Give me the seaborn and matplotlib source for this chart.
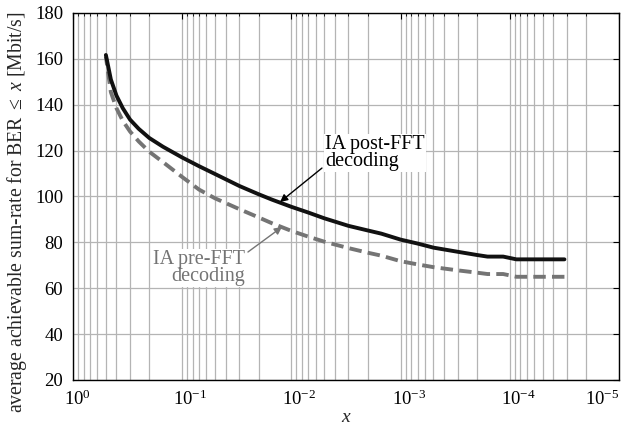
import matplotlib
matplotlib.use("Agg")
import matplotlib.pyplot as plt
import matplotlib.transforms as mtransforms
import numpy as np
import pandas as pd
import seaborn as sns

# BER threshold x and achievable sum-rate [Mbit/s]
ber = [0.5, 0.45, 0.4, 0.35, 0.3, 0.25, 0.2, 0.15, 0.1, 0.07, 0.05, 0.03,
       0.02, 0.015, 0.01, 0.007, 0.005, 0.003, 0.002, 0.0015, 0.001, 7e-4,
       5e-4, 3e-4, 2e-4, 1.6e-4, 1.15e-4, 8.7e-5, 3.16e-5]
post_fft = [161.7, 151.0, 144.0, 138.5, 133.5, 129.5, 125.5, 121.7, 117.0, 113.2,
            109.8, 104.6, 101.0, 98.6, 95.5, 93.0, 90.5, 87.2, 85.2, 83.8, 81.2,
            79.5, 77.7, 75.9, 74.5, 73.8, 73.8, 72.6, 72.6]
pre_fft = [161.0, 145.5, 138.5, 133.0, 128.3, 124.0, 119.5, 115.0, 108.5, 103.0,
           99.2, 94.5, 90.9, 88.3, 85.0, 82.5, 80.3, 77.5, 75.5, 74.2, 71.8,
           70.4, 69.2, 67.8, 66.8, 66.2, 66.2, 65.0, 65.0]

sns.set_style("white")
plt.rcParams["font.family"] = "serif"
plt.rcParams["font.serif"] = ["Liberation Serif", "DejaVu Serif"]
plt.rcParams["mathtext.fontset"] = "custom"
plt.rcParams["mathtext.rm"] = "Liberation Serif"
plt.rcParams["mathtext.it"] = "Liberation Serif:italic"
plt.rcParams["font.size"] = 13

GRAY = "#747474"

df = pd.DataFrame({"ber": ber, "post": post_fft, "pre": pre_fft})

fig = plt.figure(figsize=(6.23, 4.25), dpi=100)
ax = fig.add_axes([73 / 623, 45 / 425, 546 / 623, 367 / 425])

sns.lineplot(data=df, x="ber", y="pre", ax=ax, color=GRAY, linewidth=2.8,
             linestyle=(0, (3.2, 1.6)), zorder=3)
sns.lineplot(data=df, x="ber", y="post", ax=ax, color="#111111", linewidth=2.8,
             zorder=4)

ax.set_xscale("log")
ax.set_xlim(1, 1e-5)
ax.set_ylim(20, 180)
ax.set_yticks(range(20, 181, 20))

ax.grid(True, which="major", color="#b4b4b4", linewidth=0.9)
ax.grid(True, which="minor", axis="x", color="#b4b4b4", linewidth=0.9)
ax.set_axisbelow(True)
for s in ax.spines.values():
    s.set_color("black")
    s.set_linewidth(1.0)
ax.tick_params(which="both", direction="in", top=True, right=True,
               labelsize=13.5, colors="black")
ax.tick_params(which="major", length=4, pad=7)
ax.tick_params(which="minor", length=2)

ax.set_xlabel("$x$", fontsize=14, labelpad=0)
ax.set_ylabel(r"average achievable sum-rate for BER $\leq$ $x$ [Mbit/s]",
              fontsize=14.2)
ax.yaxis.set_label_coords(-0.08, 0.458)

# annotations
ax.text(0.00492, 126.6, "IA post-FFT\ndecoding", fontsize=14.5, color="black",
        ha="left", va="top", linespacing=0.85, zorder=5,
        bbox=dict(boxstyle="square,pad=0.05", fc="white", ec="none"))
ax.annotate("", xy=(0.0127, 97.6), xytext=(0.00525, 112.4),
            arrowprops=dict(arrowstyle="-|>", color="black", lw=1.0,
                            mutation_scale=11, shrinkA=0, shrinkB=0),
            zorder=5)
ax.text(0.0266, 76.6, "IA pre-FFT\ndecoding", fontsize=14.5, color=GRAY,
        ha="right", va="top", linespacing=0.85, multialignment="right",
        zorder=5,
        bbox=dict(boxstyle="square,pad=0.05", fc="white", ec="none"))
ax.annotate("", xy=(0.0122, 86.7), xytext=(0.025, 75.8),
            arrowprops=dict(arrowstyle="-|>", color=GRAY, lw=1.0,
                            mutation_scale=11, shrinkA=0, shrinkB=0),
            zorder=5)

fig.canvas.draw()
shift = mtransforms.ScaledTranslation(-9 / 100, 0, fig.dpi_scale_trans)
for lab in ax.get_xticklabels():
    x = lab.get_position()[0]
    if np.isclose(x, 1e-5):
        lab.set_ha("right")
    else:
        lab.set_ha("left")
        lab.set_transform(lab.get_transform() + shift)

fig.savefig("out.png", dpi=100)
